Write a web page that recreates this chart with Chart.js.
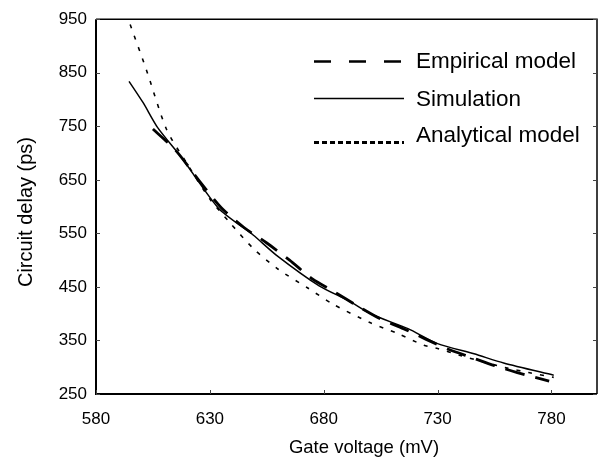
<!DOCTYPE html>
<html><head><meta charset="utf-8">
<script src="https://cdn.jsdelivr.net/npm/chart.js@4/dist/chart.umd.min.js"></script>
<style>html,body{margin:0;padding:0;background:#fff}</style>
</head><body>
<canvas id="c" width="598" height="473"></canvas>
<script>
// ---- data ----
const xTickValues = [580, 630, 680, 730, 780];
const yTickValues = [250, 350, 450, 550, 650, 750, 850, 950];
const seriesNames = ["Empirical model", "Simulation", "Analytical model"];
const xAxisTitle = "Gate voltage (mV)";
const yAxisTitle = "Circuit delay (ps)";

const empX = [605, 615, 625, 635, 645, 655, 665, 675, 685, 695, 705, 715, 725, 735, 745, 755, 765, 779];
const empY = [745, 705, 650, 598, 561, 532, 500, 465, 440, 414, 390, 372, 352, 333, 318, 303, 290, 274];
const simX = [594.5, 600.7, 607, 618, 634, 649, 659, 678, 691, 701, 717, 730, 746, 759, 781];
const simY = [834, 794, 748, 689, 596, 547, 510, 452, 424, 399, 372, 344, 325, 308, 285];
const anaX = [595, 602, 611, 620, 630, 639, 649, 660, 673, 684, 700, 713, 724, 730, 740, 750, 760, 770, 781];
const anaY = [940, 857, 744, 680, 614, 569, 522, 483, 448, 418, 384, 362, 341, 335, 322, 310, 299, 290, 281];

const pts = (xs, ys) => xs.map((x, i) => ({x: x, y: ys[i]}));
const FONT = "'Liberation Sans', Arial, Helvetica, sans-serif";

const framePlugin = {
  id: 'frame',
  afterDraw(chart) {
    const ctx = chart.ctx, a = chart.chartArea;
    const xs = chart.scales.x, ys = chart.scales.y;
    ctx.save();
    ctx.strokeStyle = '#000';
    // frame
    ctx.lineWidth = 2;
    ctx.beginPath();
    ctx.moveTo(a.left, a.top); ctx.lineTo(a.left, a.bottom); ctx.lineTo(a.right, a.bottom);
    ctx.stroke();
    ctx.lineWidth = 1.5;
    ctx.beginPath();
    ctx.moveTo(a.left, a.top); ctx.lineTo(a.right, a.top); ctx.lineTo(a.right, a.bottom);
    ctx.stroke();
    // inward ticks
    ctx.lineWidth = 1;
    ctx.strokeStyle = '#444';
    ctx.beginPath();
    xTickValues.forEach(v => {
      const px = Math.round(xs.getPixelForValue(v)) + 0.5;
      ctx.moveTo(px, a.bottom); ctx.lineTo(px, a.bottom - 4);
    });
    yTickValues.forEach(v => {
      const py = Math.round(ys.getPixelForValue(v)) + 0.5;
      ctx.moveTo(a.left, py); ctx.lineTo(a.left + 4, py);
      ctx.moveTo(a.right, py); ctx.lineTo(a.right - 4, py);
    });
    ctx.stroke();
    // axis titles
    ctx.fillStyle = '#000';
    ctx.font = '18.5px ' + FONT;
    ctx.textAlign = 'center';
    ctx.textBaseline = 'alphabetic';
    ctx.fillText(xAxisTitle, 364, 453);
    ctx.save();
    ctx.translate(32, 212);
    ctx.rotate(-Math.PI / 2);
    ctx.font = '20px ' + FONT;
    ctx.fillText(yAxisTitle, 0, 0);
    ctx.restore();
    // legend
    const lineY = [61.5, 98.5, 142.5];
    const textY = [62, 100, 135.5];
    const legDash = [[17, 18], [], [5, 3]];
    const legW = [2.5, 1.3, 3];
    chart.data.datasets.forEach((ds, i) => {
      ctx.strokeStyle = '#000';
      ctx.lineWidth = legW[i];
      ctx.setLineDash(legDash[i]);
      ctx.beginPath();
      ctx.moveTo(314, lineY[i]); ctx.lineTo(404, lineY[i]);
      ctx.stroke();
      ctx.setLineDash([]);
      ctx.font = '22.5px ' + FONT;
      ctx.textAlign = 'left';
      ctx.textBaseline = 'middle';
      ctx.fillText(ds.label, 416, textY[i]);
    });
    ctx.restore();
  }
};

new Chart(document.getElementById('c'), {
  type: 'scatter',
  data: {
    datasets: [
      {label: seriesNames[0], data: pts(empX, empY), showLine: true, borderColor: '#000',
       borderWidth: 2.8, borderDash: [20, 11], pointRadius: 0, tension: 0.25},
      {label: seriesNames[1], data: pts(simX, simY), showLine: true, borderColor: '#000',
       borderWidth: 1.5, pointRadius: 0, tension: 0.25},
      {label: seriesNames[2], data: pts(anaX, anaY), showLine: true, borderColor: '#000',
       borderWidth: 1.6, borderDash: [4, 8], pointRadius: 0, tension: 0.25}
    ]
  },
  options: {
    responsive: false,
    animation: false,
    devicePixelRatio: 1,
    layout: {padding: {top: 15, right: 1, left: 0, bottom: 0}},
    plugins: {legend: {display: false}, tooltip: {enabled: false}},
    scales: {
      x: {
        type: 'linear', min: 580, max: 800,
        afterBuildTicks: s => { s.ticks = xTickValues.map(v => ({value: v})); },
        afterFit: s => { s.height = 79; },
        grid: {display: false, drawTicks: false},
        border: {display: false},
        ticks: {color: '#000', font: {family: FONT, size: 17}, padding: 15, maxRotation: 0, autoSkip: false}
      },
      y: {
        type: 'linear', min: 250, max: 950,
        afterBuildTicks: s => { s.ticks = yTickValues.map(v => ({value: v})); },
        afterFit: s => { s.width = 96; },
        grid: {display: false, drawTicks: false},
        border: {display: false},
        ticks: {color: '#000', font: {family: FONT, size: 17}, padding: 9, autoSkip: false}
      }
    }
  },
  plugins: [framePlugin]
});
</script>
</body></html>
